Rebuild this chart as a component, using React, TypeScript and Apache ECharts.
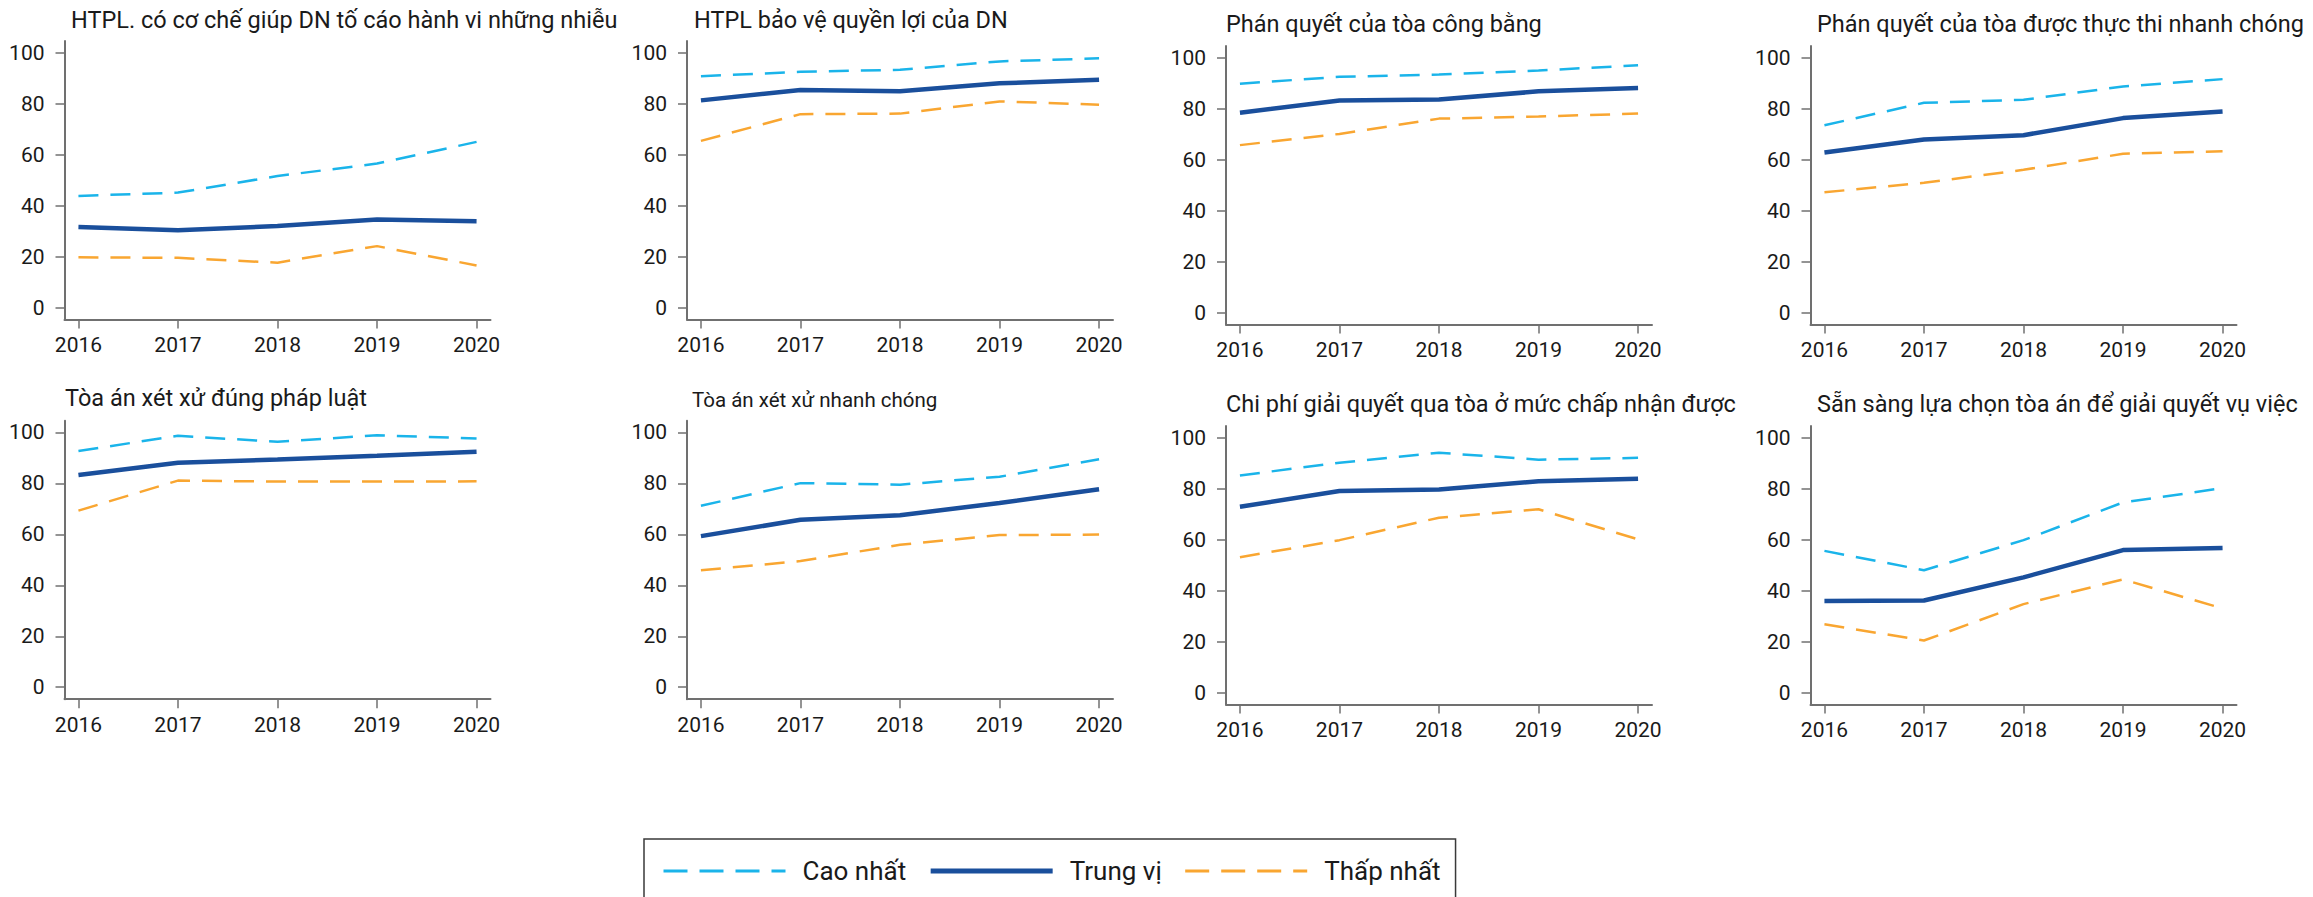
import React, { useEffect, useRef } from "react";
import * as echarts from "echarts";

const years = [2016, 2017, 2018, 2019, 2020];
const yTicks = [0, 20, 40, 60, 80, 100];

const titles = [
  "HTPL. có cơ chế giúp DN tố cáo hành vi những nhiễu",
  "HTPL bảo vệ quyền lợi của DN",
  "Phán quyết của tòa công bằng",
  "Phán quyết của tòa được thực thi nhanh chóng",
  "Tòa án xét xử đúng pháp luật",
  "Tòa án xét xử nhanh chóng",
  "Chi phí giải quyết qua tòa ở mức chấp nhận được",
  "Sẵn sàng lựa chọn tòa án để giải quyết vụ việc",
];

const seriesNames = ["Cao nhất", "Trung vị", "Thấp nhất"];

const caoNhat = [
  [43.8, 45.1, 51.6, 56.5, 65.0],
  [90.8, 92.5, 93.3, 96.6, 97.8],
  [89.8, 92.5, 93.4, 95.0, 97.0],
  [73.5, 82.3, 83.5, 88.7, 91.6],
  [92.7, 98.7, 96.3, 98.9, 97.6],
  [71.2, 80.1, 79.5, 82.6, 89.5],
  [85.2, 90.2, 94.1, 91.4, 92.1],
  [55.6, 48.0, 59.8, 74.6, 80.2],
];

const trungVi = [
  [31.6, 30.3, 32.0, 34.5, 33.9],
  [81.3, 85.4, 84.9, 88.0, 89.4],
  [78.4, 83.2, 83.6, 86.8, 88.1],
  [62.8, 67.9, 69.6, 76.3, 78.9],
  [83.3, 88.1, 89.4, 90.8, 92.4],
  [59.3, 65.7, 67.5, 72.3, 77.7],
  [72.9, 79.1, 79.7, 82.9, 83.9],
  [35.9, 36.1, 45.2, 55.9, 56.7],
];

const thapNhat = [
  [19.7, 19.5, 17.6, 24.1, 16.5],
  [65.4, 75.9, 76.1, 80.9, 79.6],
  [65.7, 70.1, 76.1, 76.9, 78.1],
  [47.2, 50.9, 56.0, 62.3, 63.3],
  [69.3, 81.1, 80.7, 80.7, 80.8],
  [45.9, 49.5, 55.9, 59.7, 59.9],
  [53.1, 59.8, 68.6, 71.9, 60.1],
  [26.8, 20.4, 34.7, 44.4, 33.0],
];

// layout (px)
const gridLefts = [64.5, 687, 1226, 1810.5, 64.5, 687, 1226, 1810.5];
const gridTops = [41, 41, 46, 46, 420.7, 420.7, 426, 426];
const gridWidth = 426;
const gridHeight = 278.5;
const titleLefts = [71, 694, 1226, 1817, 65, 692, 1226, 1817];
const titleTops = [8, 8, 12, 12, 386, 389, 392, 392];
const titleSizes = [23.5, 23.5, 23.5, 23.5, 23.5, 20.5, 23.5, 23.5];

const FONT = "Roboto, 'Liberation Sans', sans-serif";
const COL_CAO = "#1ab4ea";
const COL_TRUNG = "#1a4f9c";
const COL_THAP = "#f9a631";
const AXIS_COL = "#707070";
const TEXT_COL = "#1a1a1a";

export default function App() {
  const ref = useRef<HTMLDivElement>(null);

  useEffect(() => {
    if (!ref.current) return;
    const chart = echarts.init(ref.current, undefined, { renderer: "svg" });

    const grids = gridLefts.map((l, i) => ({
      left: l,
      top: gridTops[i],
      width: gridWidth,
      height: gridHeight,
      containLabel: false,
    }));

    const xAxes = gridLefts.map((_, i) => ({
      type: "value",
      gridIndex: i,
      min: 2015.86,
      max: 2020.14,
      splitLine: { show: false },
      axisLine: { show: true, onZero: false, lineStyle: { color: AXIS_COL, width: 2 } },
      axisTick: { show: true, length: 9, customValues: years, lineStyle: { color: AXIS_COL, width: 1.5 } },
      axisLabel: {
        show: true,
        customValues: years,
        margin: 15,
        fontSize: 21,
        fontFamily: FONT,
        color: TEXT_COL,
        formatter: (v: number) => String(v),
      },
    }));

    const yAxes = gridLefts.map((_, i) => ({
      type: "value",
      gridIndex: i,
      min: -4.7,
      max: 104.6,
      splitLine: { show: false },
      axisLine: { show: true, onZero: false, lineStyle: { color: AXIS_COL, width: 2 } },
      axisTick: { show: true, length: 9, customValues: yTicks, lineStyle: { color: AXIS_COL, width: 1.5 } },
      axisLabel: {
        show: true,
        customValues: yTicks,
        margin: 20,
        fontSize: 21,
        fontFamily: FONT,
        color: TEXT_COL,
        formatter: (v: number) => String(v),
      },
    }));

    const titleOpts = titles.map((t, i) => ({
      text: t,
      left: titleLefts[i],
      top: titleTops[i],
      padding: 0,
      textStyle: {
        fontSize: titleSizes[i],
        fontWeight: "normal",
        fontFamily: FONT,
        color: TEXT_COL,
      },
    }));

    const groups = [caoNhat, trungVi, thapNhat];
    const colors = [COL_CAO, COL_TRUNG, COL_THAP];
    const widths = [2.5, 4.5, 2.5];
    const types: any[] = [[20, 12], "solid", [20, 12]];

    const series: any[] = [];
    for (let i = 0; i < 8; i++) {
      groups.forEach((g, k) => {
        series.push({
          type: "line",
          name: seriesNames[k],
          xAxisIndex: i,
          yAxisIndex: i,
          symbol: "none",
          showSymbol: false,
          silent: true,
          z: k === 1 ? 3 : 2,
          itemStyle: { color: colors[k] },
          lineStyle: { color: colors[k], width: widths[k], type: types[k] },
          data: years.map((y, j) => [y, g[i][j]]),
        });
      });
    }

    const hiddenSymbol = { opacity: 0, color: "rgba(0,0,0,0)", borderWidth: 0 };

    chart.setOption({
      animation: false,
      backgroundColor: "#ffffff",
      title: titleOpts,
      grid: grids,
      xAxis: xAxes,
      yAxis: yAxes,
      legend: {
        left: 644,
        top: 839,
        orient: "horizontal",
        itemWidth: 122,
        itemHeight: 20,
        itemGap: 22,
        padding: [19, 15, 40, 18],
        borderColor: "#3a3a3a",
        borderWidth: 1.5,
        selectedMode: false,
        textStyle: {
          fontSize: 26,
          fontFamily: FONT,
          color: TEXT_COL,
          padding: [0, 0, 0, 12],
        },
        data: [
          { name: "Cao nhất", itemStyle: hiddenSymbol, lineStyle: { type: [24, 12], width: 3, color: COL_CAO } },
          { name: "Trung vị", itemStyle: hiddenSymbol, lineStyle: { width: 5, color: COL_TRUNG } },
          { name: "Thấp nhất", itemStyle: hiddenSymbol, lineStyle: { type: [24, 12], width: 3, color: COL_THAP } },
        ],
      },
      series,
    });

    return () => chart.dispose();
  }, []);

  return (
    <div
      ref={ref}
      style={{ position: "fixed", left: 0, top: 0, width: 2313, height: 897, background: "#fff" }}
    />
  );
}
